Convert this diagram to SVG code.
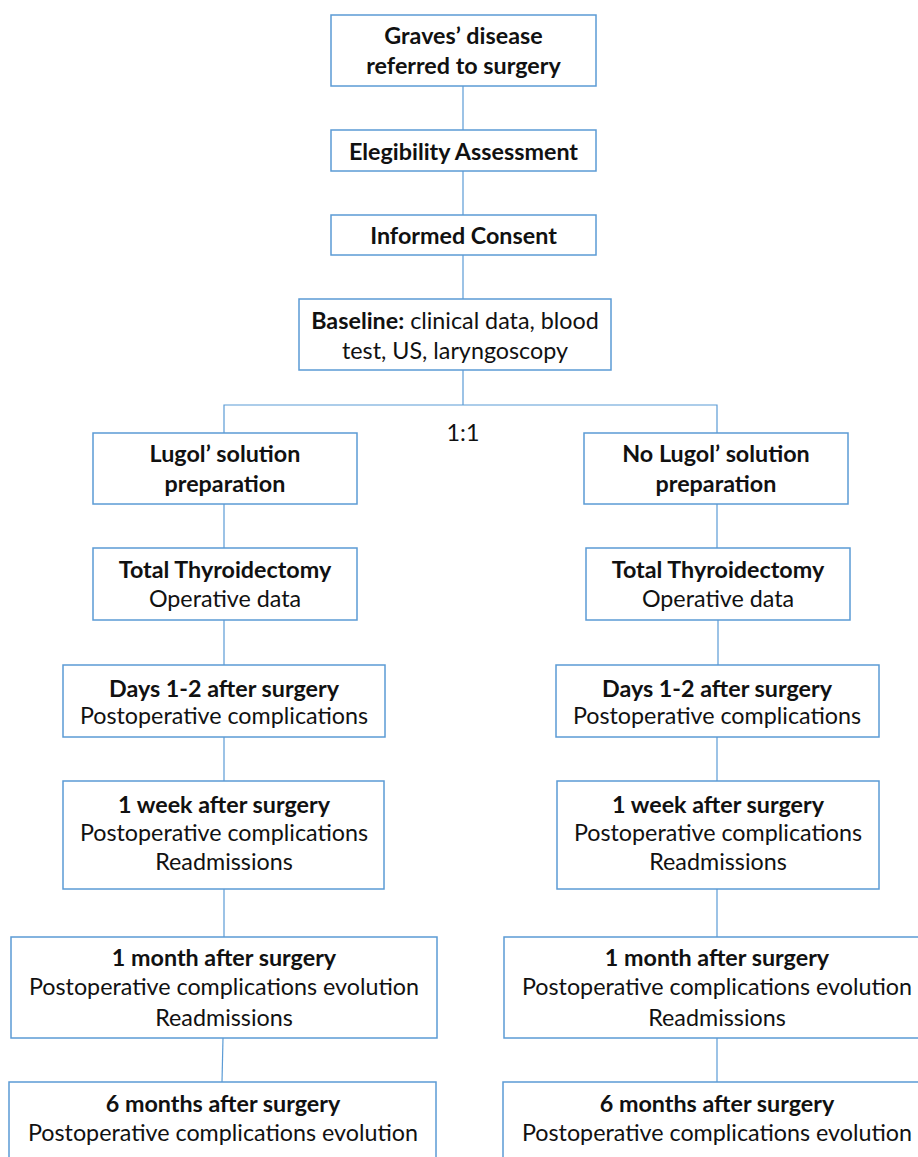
<svg xmlns="http://www.w3.org/2000/svg" width="918" height="1157" viewBox="0 0 918 1157">
<style>
.box{fill:#fff;stroke:#5b9bd5;stroke-width:1.5}
.ln{stroke:#5b9bd5;stroke-width:1.2;fill:none}
text{font-family:Lato,"Open Sans","Liberation Sans",sans-serif;font-size:23.3px;fill:#111;text-anchor:middle}
.b{font-weight:bold}
</style>
<rect width="918" height="1157" fill="#fff"/>
<g id="connectors">
<line class="ln" x1="463" y1="86" x2="463" y2="130"/>
<line class="ln" x1="463" y1="171" x2="463" y2="215"/>
<line class="ln" x1="463" y1="255" x2="463" y2="299"/>
<line class="ln" x1="463" y1="370" x2="463" y2="405"/>
<polyline class="ln" points="224,433 224,405 717,405 717,433"/>
<line class="ln" x1="224" y1="504" x2="224" y2="548"/>
<line class="ln" x1="717" y1="504" x2="717" y2="548"/>
<line class="ln" x1="224" y1="620" x2="224" y2="665"/>
<line class="ln" x1="718" y1="620" x2="718" y2="665"/>
<line class="ln" x1="224" y1="737" x2="224" y2="781"/>
<line class="ln" x1="717" y1="737" x2="717" y2="781"/>
<line class="ln" x1="224" y1="889" x2="224" y2="937"/>
<line class="ln" x1="717" y1="889" x2="717" y2="937"/>
<line class="ln" x1="223" y1="1038" x2="222" y2="1082"/>
<line class="ln" x1="717" y1="1038" x2="717" y2="1082"/>
<text x="463" y="441">1:1</text>
</g>
<g id="graves">
<rect class="box" x="331" y="15" width="265" height="71"/>
<text class="b" x="463.5" y="44">Graves’ disease</text>
<text class="b" x="463.5" y="74">referred to surgery</text>
</g>
<g id="elegibility">
<rect class="box" x="331" y="130" width="265" height="41"/>
<text class="b" x="463.5" y="160">Elegibility Assessment</text>
</g>
<g id="consent">
<rect class="box" x="331" y="215" width="265" height="40"/>
<text class="b" x="463.5" y="244">Informed Consent</text>
</g>
<g id="baseline">
<rect class="box" x="299" y="299" width="312" height="71"/>
<text x="455" y="329"><tspan class="b">Baseline:</tspan> clinical data, blood</text>
<text x="455" y="359">test, US, laryngoscopy</text>
</g>
<g id="lugol">
<rect class="box" x="93" y="433" width="264" height="71"/>
<text class="b" x="225" y="462">Lugol’ solution</text>
<text class="b" x="225" y="492">preparation</text>
</g>
<g id="nolugol">
<rect class="box" x="584" y="433" width="264" height="71"/>
<text class="b" x="716" y="462">No Lugol’ solution</text>
<text class="b" x="716" y="492">preparation</text>
</g>
<g id="tt-left">
<rect class="box" x="93" y="548" width="264" height="72"/>
<text class="b" x="225" y="578">Total Thyroidectomy</text>
<text x="225" y="607">Operative data</text>
</g>
<g id="tt-right">
<rect class="box" x="586" y="548" width="264" height="72"/>
<text class="b" x="718" y="578">Total Thyroidectomy</text>
<text x="718" y="607">Operative data</text>
</g>
<g id="days-left">
<rect class="box" x="63" y="665" width="322" height="72"/>
<text class="b" x="224" y="697">Days 1-2 after surgery</text>
<text x="224" y="724">Postoperative complications</text>
</g>
<g id="days-right">
<rect class="box" x="556" y="665" width="323" height="72"/>
<text class="b" x="717" y="697">Days 1-2 after surgery</text>
<text x="717" y="724">Postoperative complications</text>
</g>
<g id="week-left">
<rect class="box" x="63" y="781" width="321" height="108"/>
<text class="b" x="224" y="813">1 week after surgery</text>
<text x="224" y="841">Postoperative complications</text>
<text x="224" y="870">Readmissions</text>
</g>
<g id="week-right">
<rect class="box" x="557" y="781" width="322" height="108"/>
<text class="b" x="718" y="813">1 week after surgery</text>
<text x="718" y="841">Postoperative complications</text>
<text x="718" y="870">Readmissions</text>
</g>
<g id="month-left">
<rect class="box" x="11" y="937" width="426" height="101"/>
<text class="b" x="224" y="966">1 month after surgery</text>
<text x="224" y="995">Postoperative complications evolution</text>
<text x="224" y="1026">Readmissions</text>
</g>
<g id="month-right">
<rect class="box" x="504" y="937" width="420" height="101"/>
<text class="b" x="717" y="966">1 month after surgery</text>
<text x="717" y="995">Postoperative complications evolution</text>
<text x="717" y="1026">Readmissions</text>
</g>
<g id="six-left">
<rect class="box" x="9" y="1082" width="427" height="90"/>
<text class="b" x="223" y="1112">6 months after surgery</text>
<text x="223" y="1141">Postoperative complications evolution</text>
</g>
<g id="six-right">
<rect class="box" x="503" y="1082" width="421" height="90"/>
<text class="b" x="717" y="1112">6 months after surgery</text>
<text x="717" y="1141">Postoperative complications evolution</text>
</g>
</svg>
